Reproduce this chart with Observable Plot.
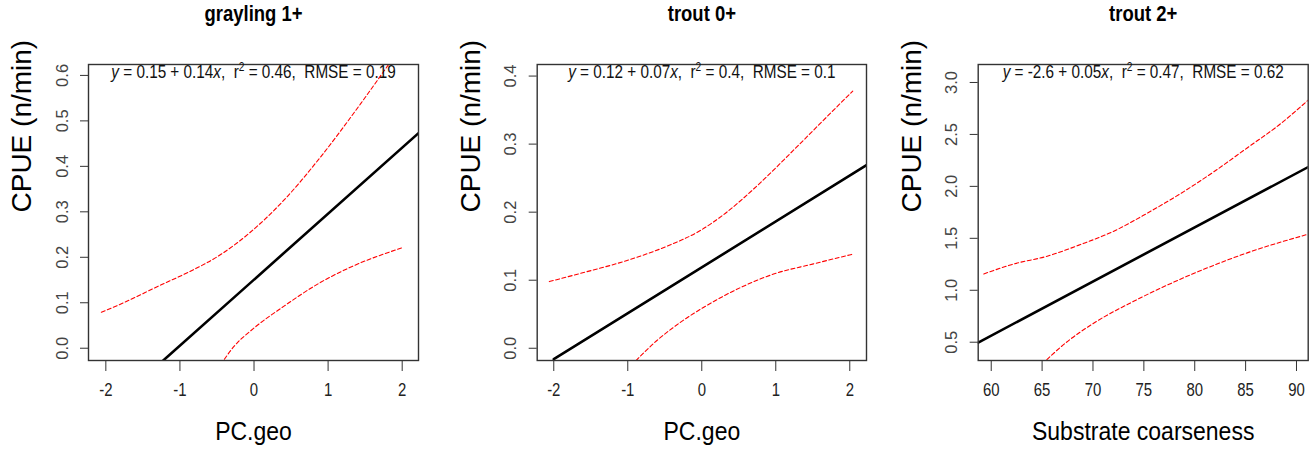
<!DOCTYPE html>
<html><head><meta charset="utf-8">
<script src="https://cdn.jsdelivr.net/npm/d3@7"></script>
<script src="https://cdn.jsdelivr.net/npm/@observablehq/plot@0.6"></script>
<style>
body{margin:0;background:#fff;}
#wrap{position:relative;width:1313px;height:456px;overflow:hidden;background:#fff;}
#wrap svg{position:absolute;top:0;}
</style></head><body><div id="wrap"></div>
<script>
// ---- data ----
const panelTitles = ["grayling 1+", "trout 0+", "trout 2+"];
const xLabels = ["PC.geo", "PC.geo", "Substrate coarseness"];
const yLabel = "CPUE (n/min)";
const annotations = [
  "y = 0.15 + 0.14x,  r² = 0.46,  RMSE = 0.19",
  "y = 0.12 + 0.07x,  r² = 0.4,  RMSE = 0.1",
  "y = -2.6 + 0.05x,  r² = 0.47,  RMSE = 0.62"
];
const xTicks1 = [-2, -1, 0, 1, 2];
const xTicks2 = [-2, -1, 0, 1, 2];
const xTicks3 = [60, 65, 70, 75, 80, 85, 90];
const yTicks1 = [0, 0.1, 0.2, 0.3, 0.4, 0.5, 0.6];
const yTicks2 = [0, 0.1, 0.2, 0.3, 0.4];
const yTicks3 = [0.5, 1.0, 1.5, 2.0, 2.5, 3.0];

// panel 1: grayling 1+
const fitX1 = [-1.26, 2.22];
const fitY1 = [-0.032, 0.473];
const upX1 = [-2.06, -1.76, -1.26, -0.90, -0.45, -0.05, 0.40, 0.90, 1.44, 1.82, 2.02];
const upY1 = [0.079, 0.100, 0.139, 0.166, 0.206, 0.255, 0.325, 0.421, 0.538, 0.625, 0.672];
const loX1 = [-0.45, -0.27, -0.01, 0.40, 0.90, 1.30, 2.02];
const loY1 = [-0.036, 0.004, 0.043, 0.092, 0.145, 0.178, 0.222];

// panel 2: trout 0+
const fitX2 = [-2.0, 2.226];
const fitY2 = [-0.016, 0.269];
const upX2 = [-2.06, -1.64, -1.01, -0.47, -0.02, 0.29, 0.78, 1.23, 1.68, 2.04];
const upY2 = [0.098, 0.110, 0.129, 0.150, 0.173, 0.196, 0.242, 0.290, 0.339, 0.378];
const loX2 = [-0.95, -0.61, -0.29, 0.07, 0.52, 0.97, 1.51, 2.03];
const loY2 = [-0.025, 0.011, 0.038, 0.063, 0.089, 0.109, 0.124, 0.138];

// panel 3: trout 2+
const fitX3 = [58.72, 91.15];
const fitY3 = [0.497, 2.186];
const upX3 = [59.27, 62.22, 65.5, 68.77, 72.05, 75.3, 78.6, 81.87, 85.15, 88.4, 91.15];
const upY3 = [1.157, 1.253, 1.328, 1.44, 1.569, 1.74, 1.93, 2.14, 2.37, 2.6, 2.83];
const loX3 = [65.0, 67.4, 70.1, 74.0, 77.3, 80.6, 85.15, 91.05];
const loY3 = [0.29, 0.5, 0.685, 0.894, 1.05, 1.19, 1.36, 1.537];

// ---- layout ----
const FONT = "Liberation Sans, Arial, sans-serif";
const panels = [
  {left: 0, width: 440, ml: 88, mr: 22, xd: [-2.234, 2.22], yd: [-0.027, 0.624], xt: xTicks1, yt: yTicks1,
   fit: [fitX1, fitY1], up: [upX1, upY1], lo: [loX1, loY1]},
  {left: 440, width: 440, ml: 96.7, mr: 14, xd: [-2.224, 2.226], yd: [-0.018, 0.417], xt: xTicks2, yt: yTicks2,
   fit: [fitX2, fitY2], up: [upX2, upY2], lo: [loX2, loY2]},
  {left: 880, width: 433, ml: 97.7, mr: 5.3, xd: [58.72, 91.15], yd: [0.324, 3.173], xt: xTicks3, yt: yTicks3,
   fit: [fitX3, fitY3], up: [upX3, upY3], lo: [loX3, loY3]}
];

function squeeze(el, sx, sy) {
  const x = +el.getAttribute("x") || 0, y = +el.getAttribute("y") || 0;
  const t = el.getAttribute("transform") || "";
  el.removeAttribute("x"); el.removeAttribute("y");
  el.setAttribute("transform", `${t} translate(${x},${y}) scale(${sx},${sy})`);
}

const ns = "http://www.w3.org/2000/svg";
function richAnnot(t) {
  const s = t.textContent;
  const m = s.match(/^y( = .*?)x(,\s+)r²( = .*)$/);
  if (!m) return;
  t.textContent = "";
  const add = (txt, attrs = {}) => {
    const ts = document.createElementNS(ns, "tspan");
    ts.textContent = txt;
    for (const k in attrs) ts.setAttribute(k, attrs[k]);
    t.appendChild(ts);
  };
  add("y", {"font-style": "italic"});
  add(m[1]);
  add("x", {"font-style": "italic"});
  add(m[2] + "r");
  add("2", {dy: "-7", "font-size": "12"});
  add(m[3], {dy: "7"});
}

const wrap = document.getElementById("wrap");
panels.forEach((p, i) => {
  const svg = Plot.plot({
    width: p.width, height: 456,
    marginLeft: p.ml, marginRight: p.mr, marginTop: 64, marginBottom: 96,
    style: {fontFamily: FONT, background: "transparent", overflow: "visible"},
    x: {domain: p.xd, axis: null},
    y: {domain: p.yd, axis: null},
    marks: [
      Plot.axisX({ticks: p.xt, tickFormat: () => "", tickSize: 11, label: null, stroke: "#333"}),
      Plot.text(p.xt, {x: d => d, text: d => String(d), frameAnchor: "bottom", dy: 35, fontSize: 18, fill: "#222"}),
      Plot.axisY({ticks: p.yt, tickFormat: d3.format(".1f"), tickSize: 8, tickRotate: -90, tickPadding: 13,
        fontSize: 16.5, label: null, stroke: "#333", fill: "#444"}),
      Plot.line(p.up[0], {x: p.up[0], y: p.up[1], stroke: "#ff0000", strokeWidth: 1.1, strokeDasharray: "4,2.5", curve: "monotone-x", clip: true}),
      Plot.line(p.lo[0], {x: p.lo[0], y: p.lo[1], stroke: "#ff0000", strokeWidth: 1.1, strokeDasharray: "4,2.5", curve: "monotone-x", clip: true}),
      Plot.line(p.fit[0], {x: p.fit[0], y: p.fit[1], stroke: "#000", strokeWidth: 2.6, clip: true}),
      Plot.frame({stroke: "#333", strokeWidth: 1.4}),
      Plot.text([panelTitles[i]], {text: d => d, frameAnchor: "top", dy: -44, fontSize: 22, fontWeight: "bold", fill: "#000"}),
      Plot.text([annotations[i]], {text: d => d, frameAnchor: "top", dy: 13, fontSize: 18, fill: "#111"}),
      Plot.text([xLabels[i]], {text: d => d, frameAnchor: "bottom", dy: 79, fontSize: 25, fill: "#000"}),
      Plot.text([yLabel], {text: d => d, frameAnchor: "left", rotate: -90, dx: -66, fontSize: 28, fill: "#000"})
    ]
  });
  svg.style.left = p.left + "px";
  wrap.appendChild(svg);
  const xTickSet = new Set(p.xt.map(String));
  svg.querySelectorAll("text").forEach(t => {
    const s = t.textContent;
    const tr = t.getAttribute("transform") || "";
    if (s === panelTitles[i]) squeeze(t, 0.84, 1);
    else if (s === xLabels[i]) squeeze(t, 0.92, 1);
    else if (s === annotations[i]) { squeeze(t, 0.85, 1); richAnnot(t); }
    else if (xTickSet.has(s) && !tr.includes("rotate")) squeeze(t, 0.83, 1);
  });
});
</script>
</body></html>
